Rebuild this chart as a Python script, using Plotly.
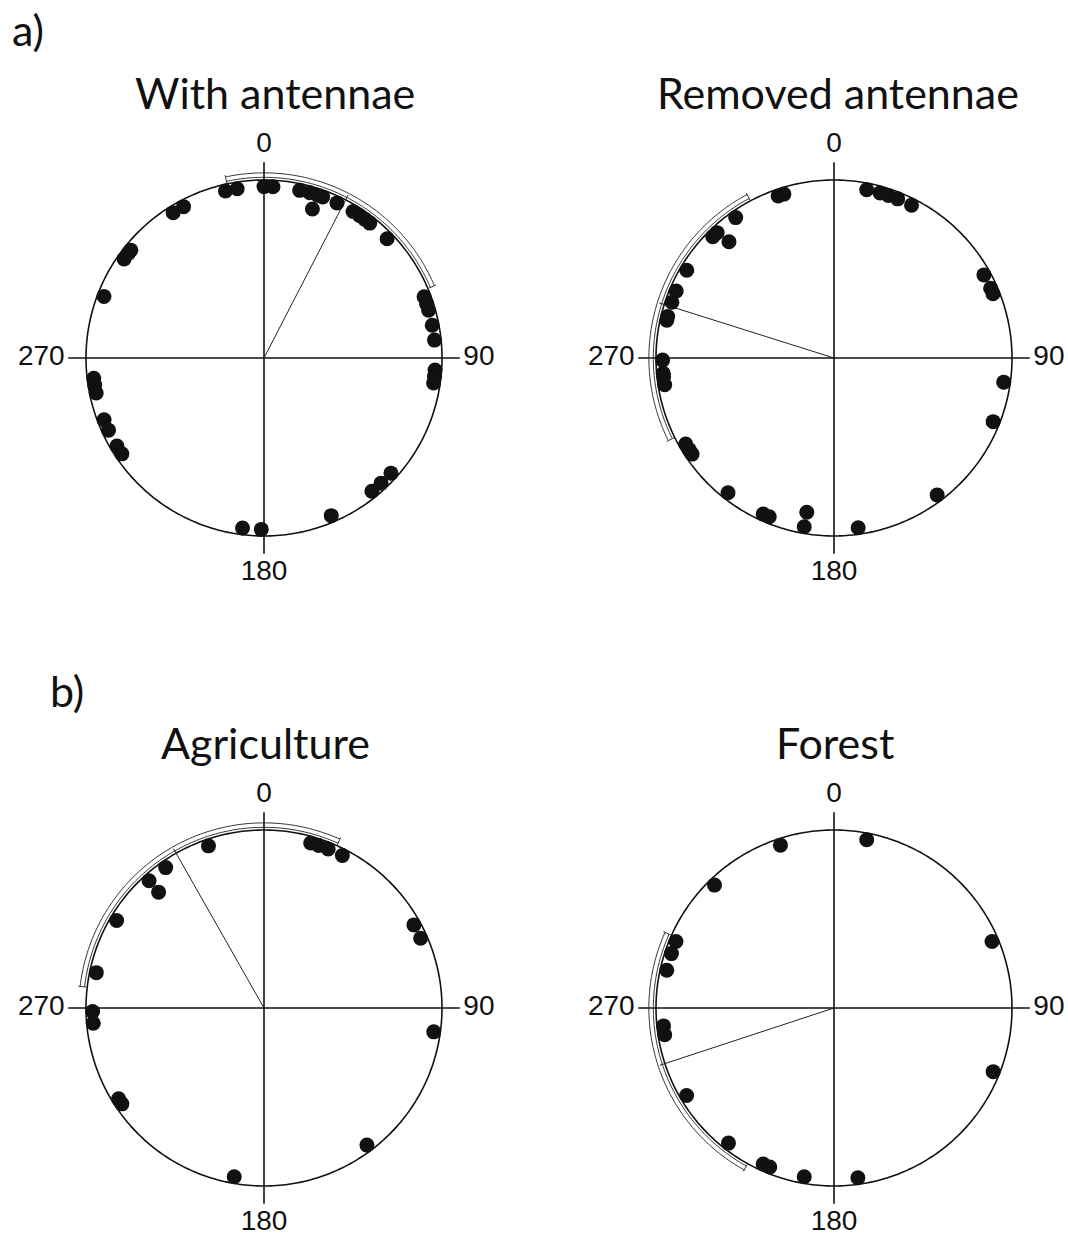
import numpy as np
import plotly.graph_objects as go

W, H = 1068, 1238

# ---- data (angles in degrees, clockwise from north) ----
titles = ["With antennae", "Removed antennae", "Agriculture", "Forest"]

ang_with = [0, 3, 12, 15.5, 18.3, 20, 18, 25.2, 31.3, 33.8, 36, 38.1, 45.9,
            69.1, 71.6, 73.8, 79, 84, 347, 351, 328, 332, 305.3, 307.6, 309, 291,
            94, 96.2, 98.4, 132.2, 136.9, 141, 156.9, 180.9, 187.2,
            263.2, 261, 258.2, 248.9, 245.1, 239.1, 236]
lvl_with = [1, 1, 1, 1, 1, 1, 2, 1, 1, 1, 1, 1, 1,
            1, 1, 1, 1, 1, 1, 1, 1, 1, 1, 1, 1, 1,
            1, 1, 1, 1, 1, 1, 1, 1, 1,
            1, 1, 1, 1, 1, 1, 1]

ang_removed = [341, 343, 325, 317, 315, 317.9, 300.8, 293, 289, 282.7, 284,
               269.3, 264.9, 263.8, 261, 239.9, 237.7, 235.9, 218.2, 204.4, 202.2,
               190, 190, 171.9, 143, 111.8, 98.1,
               11, 15.6, 18.5, 21.8, 26.9, 61, 66, 68]
lvl_removed = [1, 1, 1, 1, 1, 2, 1, 1, 1, 1, 1,
               1, 1, 1, 1, 1, 1, 1, 1, 1, 1,
               2, 1, 1, 1, 1, 1,
               1, 1, 1, 1, 1, 1, 1, 1]

ang_agri = [341.1, 325, 317.9, 317.7, 300.7, 281.9, 268.8, 264.9, 238, 236,
            190, 143.1, 98, 15.8, 18.6, 22, 27.2, 61, 66]
lvl_agri = [1, 1, 1, 2, 1, 1, 1, 1, 1, 1,
            1, 1, 1, 1, 1, 1, 1, 1, 1]

ang_forest = [341.8, 315.8, 292.8, 288.5, 282.7, 11, 67.2, 264, 261, 239.3,
              218, 204.4, 202, 190, 172, 111.8]
lvl_forest = [1] * len(ang_forest)

mean_dirs = [27.3, 287.5, 330.4, 251.8]
ci_low = [348, 243.5, 276.7, 209]
ci_high = [67, 332, 24.2, 294.1]

axis_labels = ["0", "90", "180", "270"]
axis_angles = [0, 90, 180, 270]

angles = [ang_with, ang_removed, ang_agri, ang_forest]
levels = [lvl_with, lvl_removed, lvl_agri, lvl_forest]

# ---- layout geometry ----
R = 178.0
RMAX = 1.18
RCROSS = 1.1
centers = [(264, 358), (834, 358), (264, 1008), (834, 1008)]
title_pos = [(275, 92), (838, 92), (265, 742), (835, 742)]
level_r = {1: 0.963, 2: 0.88}
label_pos = {"0": (1.12, "top center"), "90": (1.12, "middle right"),
             "180": (1.13, "bottom center"), "270": (1.12, "middle left")}

fig = go.Figure()
layout_polars = {}
ink = "#111111"

for i in range(4):
    pname = "polar" if i == 0 else f"polar{i+1}"
    sub = "polar" if i == 0 else f"polar{i+1}"
    cx, cy = centers[i]
    half = RMAX * R
    layout_polars[pname] = dict(
        domain=dict(x=[(cx - half) / W, (cx + half) / W],
                    y=[1 - (cy + half) / H, 1 - (cy - half) / H]),
        bgcolor="rgba(0,0,0,0)",
        radialaxis=dict(visible=False, range=[0, RMAX]),
        angularaxis=dict(direction="clockwise", rotation=90,
                         showline=False, showgrid=False, ticks="",
                         showticklabels=False),
    )
    # circle
    th = np.linspace(0, 360, 361)
    fig.add_trace(go.Scatterpolar(r=np.ones_like(th), theta=th, mode="lines",
                                  line=dict(color=ink, width=1.6), subplot=sub,
                                  showlegend=False, hoverinfo="skip"))
    # cross
    for a in (0, 90):
        fig.add_trace(go.Scatterpolar(r=[RCROSS, 0, RCROSS], theta=[a, a, a + 180], mode="lines",
                                      line=dict(color=ink, width=1.6), subplot=sub,
                                      showlegend=False, hoverinfo="skip"))
    # axis labels
    for lab, a in zip(axis_labels, axis_angles):
        rr, pos = label_pos[lab]
        fig.add_trace(go.Scatterpolar(r=[rr], theta=[a], mode="text", text=[lab],
                                      textposition=pos, cliponaxis=False,
                                      textfont=dict(family="Liberation Sans, Arial", size=28, color=ink),
                                      subplot=sub, showlegend=False, hoverinfo="skip"))
    # CI band
    lo, hi = ci_low[i], ci_high[i]
    if hi < lo:
        hi += 360
    tha = np.linspace(lo, hi, 120)
    for rr in (1.015, 1.04):
        fig.add_trace(go.Scatterpolar(r=np.full_like(tha, rr), theta=tha, mode="lines",
                                      line=dict(color="#333333", width=1), subplot=sub,
                                      showlegend=False, hoverinfo="skip"))
    for a in (lo, hi):
        fig.add_trace(go.Scatterpolar(r=[1.005, 1.05], theta=[a, a], mode="lines",
                                      line=dict(color="#333333", width=1), subplot=sub,
                                      showlegend=False, hoverinfo="skip"))
    # mean direction
    fig.add_trace(go.Scatterpolar(r=[0, 1.03], theta=[mean_dirs[i]] * 2, mode="lines",
                                  line=dict(color="#222222", width=1), subplot=sub,
                                  showlegend=False, hoverinfo="skip"))
    # points
    fig.add_trace(go.Scatterpolar(r=[level_r[l] for l in levels[i]], theta=angles[i],
                                  mode="markers", marker=dict(size=15, color=ink),
                                  subplot=sub, showlegend=False, cliponaxis=False))

annotations = []
for i in range(4):
    tx, ty = title_pos[i]
    annotations.append(dict(x=tx / W, y=1 - ty / H, xref="paper", yref="paper",
                            text=titles[i], showarrow=False,
                            font=dict(family="Lato", size=43, color=ink),
                            xanchor="center", yanchor="middle"))
for txt, (tx, ty) in [("a)", (28, 30)), ("b)", (67, 690))]:
    annotations.append(dict(x=tx / W, y=1 - ty / H, xref="paper", yref="paper",
                            text=txt, showarrow=False,
                            font=dict(family="Lato", size=43, color=ink),
                            xanchor="center", yanchor="middle"))

fig.update_layout(width=W, height=H, margin=dict(l=0, r=0, t=0, b=0),
                  paper_bgcolor="white", plot_bgcolor="white",
                  annotations=annotations, **layout_polars)

fig.write_html("out.html", config={"displayModeBar": False},
               post_script="document.body.style.margin='0';document.body.style.overflow='hidden';")
